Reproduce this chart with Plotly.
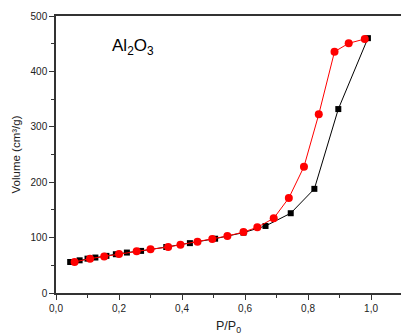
import plotly.graph_objects as go

ads_x = [0.045, 0.075, 0.10, 0.125, 0.16, 0.19, 0.225, 0.27, 0.35, 0.425, 0.505, 0.595, 0.665, 0.745, 0.82, 0.896, 0.99]
ads_y = [56, 59, 62, 64, 67, 70, 73, 76, 83, 90, 98, 109, 121, 144, 188, 332, 460]

des_x = [0.059, 0.108, 0.153, 0.20, 0.256, 0.30, 0.356, 0.395, 0.449, 0.496, 0.544, 0.595, 0.639, 0.691, 0.739, 0.787, 0.834, 0.884, 0.929, 0.98]
des_y = [56, 62, 66, 70.4, 75.2, 78.8, 83, 87.2, 92.6, 97.5, 102.9, 110, 118.6, 134.8, 171.5, 228, 322.5, 435.6, 450.7, 458.5]

x_ticks = [0.0, 0.2, 0.4, 0.6, 0.8, 1.0]
y_ticks = [0, 100, 200, 300, 400, 500]

fig = go.Figure()
fig.add_trace(go.Scatter(x=ads_x, y=ads_y, mode="lines+markers",
                         line=dict(color="black", width=1),
                         marker=dict(symbol="square", size=6, color="black"),
                         showlegend=False))
fig.add_trace(go.Scatter(x=des_x, y=des_y, mode="lines+markers",
                         line=dict(color="red", width=1),
                         marker=dict(symbol="circle", size=8, color="red"),
                         showlegend=False))

fig.add_annotation(x=0.17, y=444, xref="x", yref="y", text="Al<sub>2</sub>O<sub>3</sub>",
                   showarrow=False, xanchor="left", yanchor="middle",
                   font=dict(family="Liberation Sans, Arial", size=17, color="black"))

axis_common = dict(showgrid=False, zeroline=False, showline=True, linecolor="#333",
                   linewidth=1.5, ticks="outside", ticklen=5, tickwidth=1.2, tickcolor="#333",
                   tickfont=dict(family="Liberation Sans, Arial", size=10, color="#222"))

fig.update_layout(
    width=401, height=335,
    margin=dict(l=56, r=0, t=16, b=42),
    paper_bgcolor="white", plot_bgcolor="white",
    separators=",.",
    xaxis=dict(range=[0, 1.095], tickvals=x_ticks, tickformat=".1f", mirror=True,
               minor=dict(ticks="outside", ticklen=3, dtick=0.1, tick0=0, tickcolor="#333"),
               title=dict(text="P/P<sub>0</sub>", font=dict(family="Liberation Sans, Arial", size=12.5, color="#222"), standoff=10),
               **axis_common),
    yaxis=dict(range=[0, 500], tickvals=y_ticks, mirror=False,
               minor=dict(ticks="outside", ticklen=3, dtick=50, tick0=0, tickcolor="#333"),
               title=dict(text="Volume (cm³/g)", font=dict(family="Liberation Sans, Arial", size=11.5, color="#222"), standoff=8),
               **axis_common),
)

fig.write_html("out.html")
